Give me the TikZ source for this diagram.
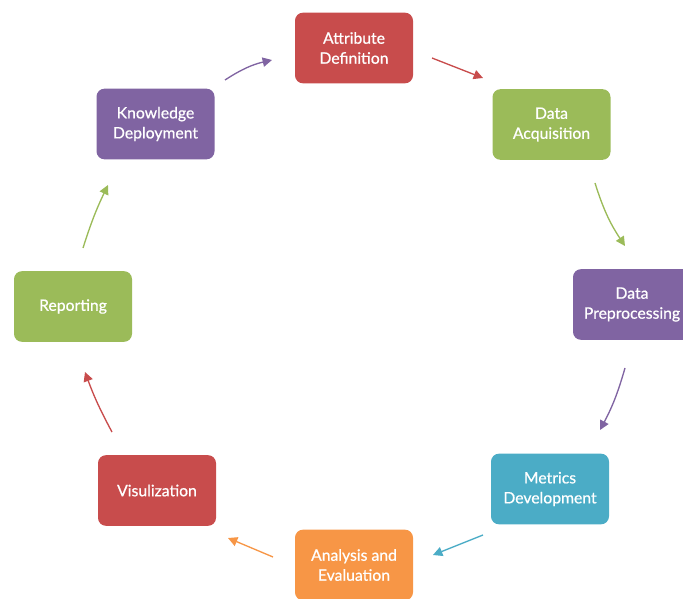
\documentclass[tikz,border=0pt]{standalone}
\usepackage{fontspec}
\setmainfont{Lato}
\newfontfamily\stagefont{Lato}[FakeBold=0.7]
\usetikzlibrary{arrows.meta}
\definecolor{cred}{RGB}{200,76,76}
\definecolor{cgreen}{RGB}{155,187,89}
\definecolor{cpurple}{RGB}{128,100,162}
\definecolor{cblue}{RGB}{75,172,198}
\definecolor{corange}{RGB}{247,150,70}
\tikzset{
  stage/.style={draw=none, fill=#1, rounded corners=6pt, text=white,
    minimum width=88.5pt, minimum height=53pt, align=center,
    font=\stagefont\fontsize{11.8}{15}\selectfont, inner sep=2pt},
  flow/.style={draw=#1, line width=1pt, -{Triangle[length=7pt,width=7pt]}},
}
\begin{document}
\begin{tikzpicture}[x=0.75pt,y=-0.75pt]
\useasboundingbox (0,0) rectangle (683,599);
\clip (0,0) rectangle (683,599);

% process stages
\node[stage=cred]    (attr) at (354,48)    {Attribute\\Definition};
\node[stage=cgreen]  (acq)  at (551.5,124.5) {Data\\Acquisition};
\node[stage=cpurple] (pre)  at (632,304.5) {Data\\Preprocessing};
\node[stage=cblue]   (met)  at (550,489)   {Metrics\\Development};
\node[stage=corange] (ana)  at (354,565)   {Analysis and\\Evaluation};
\node[stage=cred]    (vis)  at (157,490.5) {Visulization};
\node[stage=cgreen]  (rep)  at (73,306.5)  {Reporting};
\node[stage=cpurple] (kno)  at (155.5,124) {Knowledge\\Deployment};

% arrow end points between the stages
\coordinate (a1) at (432,58);  \coordinate (b1) at (483,78);
\coordinate (a2) at (595,183); \coordinate (b2) at (625,246);
\coordinate (a3) at (625,368); \coordinate (b3) at (600,430);
\coordinate (a4) at (483,535); \coordinate (b4) at (433,555);
\coordinate (a5) at (273,557); \coordinate (b5) at (228,538);
\coordinate (a6) at (112,432); \coordinate (b6) at (85,372);
\coordinate (a7) at (83,248);  \coordinate (b7) at (108,185);
\coordinate (a8) at (225,80);  \coordinate (b8) at (272,60);

\draw[flow=cred]    (a1) -- (b1);
\draw[flow=cgreen]  (a2) to[bend right=8] (b2);
\draw[flow=cpurple] (a3) to[bend left=6] (b3);
\draw[flow=cblue]   (a4) -- (b4);
\draw[flow=corange] (a5) -- (b5);
\draw[flow=cred]    (a6) to[bend left=4] (b6);
\draw[flow=cgreen]  (a7) to[bend left=4] (b7);
\draw[flow=cpurple] (a8) to[bend left=10] (b8);
\end{tikzpicture}
\end{document}
